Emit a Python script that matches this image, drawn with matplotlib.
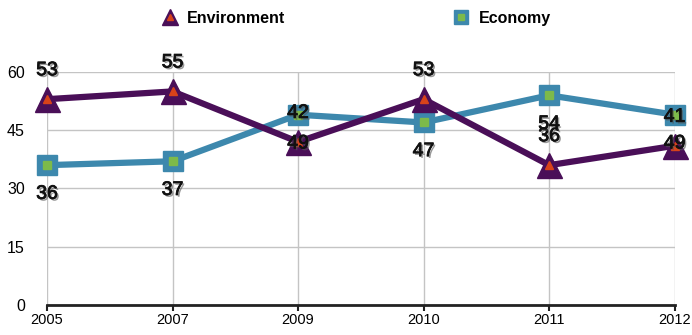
import matplotlib.pyplot as plt
import matplotlib.patheffects as pe
from matplotlib.lines import Line2D
from matplotlib.legend_handler import HandlerTuple

plt.rcParams["font.family"] = ["Liberation Sans", "DejaVu Sans"]

years = ["2005", "2007", "2009", "2010", "2011", "2012"]
environment = [53, 55, 42, 53, 36, 41]
economy = [36, 37, 49, 47, 54, 49]
y_ticks = [0, 15, 30, 45, 60]

ENV_LINE = "#4a0f58"
ENV_INNER = "#d8431a"
ECO_LINE = "#3d88ad"
ECO_INNER = "#7dba4a"

shadow = [pe.SimplePatchShadow(offset=(1.3, -1.3), shadow_rgbFace="#555555", alpha=0.6),
          pe.Stroke(linewidth=0.6, foreground="#111111"), pe.Normal()]

fig = plt.figure(figsize=(6.92, 3.35), dpi=100)
ax = fig.add_axes([0.068, 0.09, 0.907, 0.695])

x = list(range(len(years)))

ax.plot(x, economy, color=ECO_LINE, lw=4.5, marker="s", ms=15, mfc=ECO_LINE, mec=ECO_LINE,
        clip_on=False, zorder=3)
ax.plot(x, economy, ls="none", marker="s", ms=6, mfc=ECO_INNER, mec=ECO_INNER, clip_on=False, zorder=4)
ax.plot(x, environment, color=ENV_LINE, lw=4.5, marker="^", ms=18, mfc=ENV_LINE, mec=ENV_LINE,
        clip_on=False, zorder=5)
ax.plot(x, environment, ls="none", marker="^", ms=6, mfc=ENV_INNER, mec=ENV_INNER, clip_on=False, zorder=6)

# value labels: environment above its marker, economy below
for xi, v in zip(x, environment):
    ax.annotate(str(v), (xi, v), xytext=(0, 20.5), textcoords="offset points", ha="center", va="center",
                fontsize=14, color="#111111", path_effects=shadow, zorder=8, annotation_clip=False)
for xi, v in zip(x, economy):
    ax.annotate(str(v), (xi, v), xytext=(0, -21), textcoords="offset points", ha="center", va="center",
                fontsize=14, color="#111111", path_effects=shadow, zorder=8, annotation_clip=False)

ax.set_xlim(0, len(years) - 1)
ax.set_ylim(0, 60)
ax.set_xticks(x)
ax.set_xticklabels(years)
ax.set_yticks(y_ticks)
ax.grid(True, color="#c4c4c4", lw=1)
ax.set_axisbelow(True)
for side in ["left", "right", "top"]:
    ax.spines[side].set_visible(False)
ax.spines["bottom"].set_color("#222222")
ax.spines["bottom"].set_linewidth(2)
ax.tick_params(axis="x", length=4, width=1.5, color="#222222", labelsize=10.5, pad=2)
ax.tick_params(axis="y", length=0, labelsize=11.5, pad=16)

env_handle = (Line2D([], [], ls="none", marker="^", ms=11, mfc=ENV_LINE, mec=ENV_LINE),
              Line2D([], [], ls="none", marker="^", ms=4, mfc=ENV_INNER, mec=ENV_INNER))
eco_handle = (Line2D([], [], ls="none", marker="s", ms=10, mfc=ECO_LINE, mec=ECO_LINE),
              Line2D([], [], ls="none", marker="s", ms=4, mfc=ECO_INNER, mec=ECO_INNER))
leg = fig.legend([env_handle, eco_handle], ["Environment", "Economy"],
                 handler_map={tuple: HandlerTuple(ndivide=1)},
                 ncol=2, loc="center", bbox_to_anchor=(0.515, 0.945), frameon=False,
                 prop={"weight": "bold", "size": 11.5}, handlelength=1.0, handletextpad=0.6,
                 columnspacing=10.5)

fig.savefig("out.png", dpi=100)
